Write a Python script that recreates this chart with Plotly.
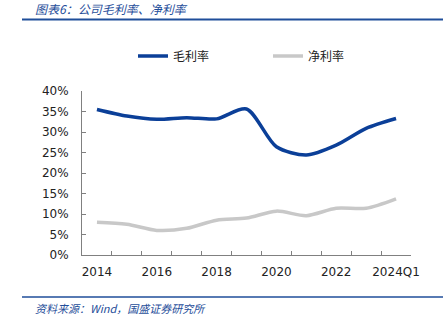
import plotly.graph_objects as go

categories = ["2014", "2015", "2016", "2017", "2018", "2019", "2020", "2021", "2022", "2023", "2024Q1"]
tick_labels = ["2014", "", "2016", "", "2018", "", "2020", "", "2022", "", "2024Q1"]
gross_margin = [0.355, 0.339, 0.331, 0.335, 0.332, 0.356, 0.264, 0.244, 0.268, 0.309, 0.333]
net_margin = [0.080, 0.075, 0.060, 0.065, 0.085, 0.090, 0.107, 0.096, 0.114, 0.114, 0.137]

BLUE = "#0B3F98"
GRAY = "#C8C8C8"
TITLE_BLUE = "#1F4E9A"

W, H = 443, 324
L, R, T, B = 82, 32, 91, 69
pw, ph = W - L - R, H - T - B

def px_x(x):
    return (x - L) / pw

def px_y(y):
    return (H - B - y) / ph

fig = go.Figure()
fig.add_trace(go.Scatter(x=categories, y=gross_margin, mode="lines", name="毛利率",
                         line=dict(color=BLUE, width=3.5, shape="spline", smoothing=0.8)))
fig.add_trace(go.Scatter(x=categories, y=net_margin, mode="lines", name="净利率",
                         line=dict(color=GRAY, width=3.5, shape="spline", smoothing=0.8)))

fig.update_layout(
    width=W, height=H,
    margin=dict(l=L, r=R, t=T, b=B),
    paper_bgcolor="white", plot_bgcolor="white",
    font=dict(family="DejaVu Sans", size=12, color="#222222"),
    showlegend=True,
    legend=dict(orientation="h", x=px_x(133), y=px_y(56), xanchor="left", yanchor="middle",
                entrywidth=90, entrywidthmode="pixels",
                font=dict(family="Noto Sans CJK SC", size=12, color="#222222"),
                bgcolor="rgba(0,0,0,0)"),
    xaxis=dict(type="category", range=[-0.5, 10.5], tickmode="array",
               tickvals=categories, ticktext=tick_labels, tickangle=0,
               tickson="boundaries", ticks="inside", ticklen=4, tickcolor="#808080",
               showline=True, linecolor="#808080", linewidth=1, showgrid=False,
               ticklabelstandoff=6, tickfont=dict(size=12, color="#222222")),
    yaxis=dict(range=[0, 0.4], dtick=0.05, tickformat=".0%", ticks="inside", ticklen=4,
               tickcolor="#808080", showline=True, linecolor="#808080", linewidth=1,
               showgrid=False, zeroline=False, ticklabelstandoff=10,
               tickfont=dict(size=12, color="#222222")),
)

# header and footer rules
fig.add_shape(type="line", xref="paper", yref="paper", x0=px_x(22), x1=px_x(443),
              y0=px_y(19.5), y1=px_y(19.5), line=dict(color="#1F4E9A", width=2))
fig.add_shape(type="line", xref="paper", yref="paper", x0=px_x(22), x1=px_x(443),
              y0=px_y(297), y1=px_y(297), line=dict(color="#1F4E9A", width=1.5))

fig.add_annotation(text="<i>图表6：公司毛利率、净利率</i>", xref="paper", yref="paper",
                   x=px_x(33), y=px_y(8), xanchor="left", yanchor="middle", showarrow=False,
                   font=dict(family="Noto Sans CJK SC", size=12, color=TITLE_BLUE))
fig.add_annotation(text="<i>资料来源：Wind，国盛证券研究所</i>", xref="paper", yref="paper",
                   x=px_x(33), y=px_y(308), xanchor="left", yanchor="middle", showarrow=False,
                   font=dict(family="Noto Sans CJK SC", size=11, color=TITLE_BLUE))

fig.write_html("out.html")
